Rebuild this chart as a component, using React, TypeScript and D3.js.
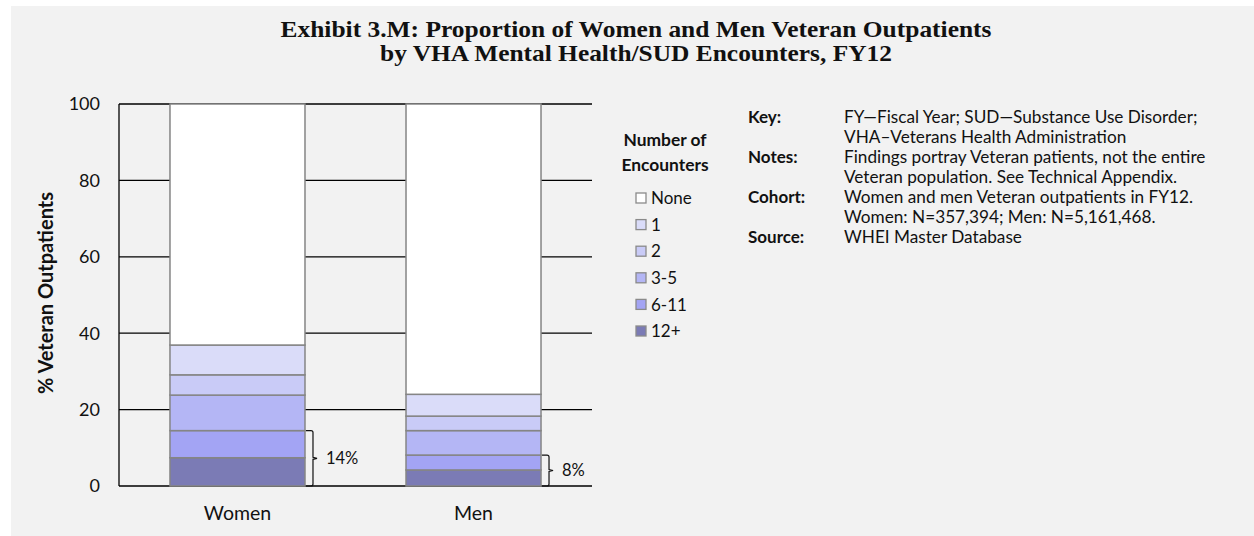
import React from "react";
import * as d3 from "d3";

const categories = ["Women", "Men"];
const encounterGroups = ["12+", "6-11", "3-5", "2", "1", "None"];
const womenValues = [7.4, 7.1, 9.3, 5.3, 7.8, 63.1];
const menValues = [4.2, 3.9, 6.4, 3.8, 5.7, 76.0];
const groupColors = ["#7b7bb5", "#a3a4f4", "#b4b6f5", "#c9cbf7", "#dadcf9", "#ffffff"];
const yTicks = [0, 20, 40, 60, 80, 100];
const bracketLabels = ["14%", "8%"];
const bracketGroups = 2; // 12+ and 6-11
const legendOrder = ["None", "1", "2", "3-5", "6-11", "12+"];

const titleLines = [
  "Exhibit 3.M: Proportion of Women and Men Veteran Outpatients",
  "by VHA Mental Health/SUD Encounters, FY12",
];
const titleWidths = [711, 512];
const notes = [
  { label: "Key:", lines: ["FY\u2014Fiscal Year; SUD\u2014Substance Use Disorder;", "VHA\u2013Veterans Health Administration"] },
  { label: "Notes:", lines: ["Findings portray Veteran patients, not the entire", "Veteran population. See Technical Appendix."] },
  { label: "Cohort:", lines: ["Women and men Veteran outpatients in FY12.", "Women: N=357,394; Men: N=5,161,468."] },
  { label: "Source:", lines: ["WHEI Master Database"] },
];

const W = 1254;
const H = 536;
const plot = { left: 119, right: 592, top: 104, bottom: 486 };
const SANS = "Lato, 'Open Sans', sans-serif";

export default function App() {
  const rows = categories.map((c, i) => {
    const vals = i === 0 ? womenValues : menValues;
    const r: any = { cat: c };
    encounterGroups.forEach((g, j) => (r[g] = vals[j]));
    return r;
  });
  const stack = d3.stack<any>().keys(encounterGroups)(rows);
  const x = d3
    .scaleBand<string>()
    .domain(categories)
    .range([plot.left, plot.right])
    .paddingInner(0.428)
    .paddingOuter(0.216);
  const y = d3.scaleLinear().domain([0, 100]).range([plot.bottom, plot.top]);
  const color = d3.scaleOrdinal<string, string>().domain(encounterGroups).range(groupColors);

  let noteLine = 0;
  const noteY0 = 117;
  const noteStep = 20;

  return (
    <svg width={W} height={H} style={{ position: "absolute", left: 0, top: 0 }} fontFamily={SANS}>
      <rect x={11} y={6} width={W - 11} height={H - 6} fill="#f2f2f2" />
      {titleLines.map((t, i) => (
        <text
          key={i}
          x={636}
          y={37 + i * 24}
          textAnchor="middle"
          fontFamily="'Liberation Serif', 'DejaVu Serif', serif"
          fontWeight="bold"
          fontSize={22.5}
          textLength={titleWidths[i]}
          lengthAdjust="spacingAndGlyphs"
          fill="#111"
        >
          {t}
        </text>
      ))}

      {/* gridlines */}
      {yTicks.map((t) => (
        <line key={t} x1={plot.left} x2={plot.right} y1={y(t)} y2={y(t)} stroke="#000" strokeWidth={1.3} />
      ))}
      <line x1={plot.left} x2={plot.left} y1={plot.top} y2={plot.bottom} stroke="#000" strokeWidth={1.3} />
      {yTicks.map((t) => (
        <text key={"l" + t} x={100} y={y(t)} dy="0.36em" textAnchor="end" fontSize={18} fill="#111">
          {t}
        </text>
      ))}
      <text
        transform={`translate(46,${(plot.top + plot.bottom) / 2 - 2}) rotate(-90)`}
        textAnchor="middle"
        dy="0.35em"
        fontSize={20}
        fontWeight="bold"
        fill="#111"
      >
        % Veteran Outpatients
      </text>

      {/* bars */}
      {stack.map((layer) => (
        <g key={layer.key}>
          {layer.map((d: any, i: number) => (
            <rect
              key={i}
              x={x(d.data.cat)}
              width={x.bandwidth()}
              y={y(d[1])}
              height={y(d[0]) - y(d[1])}
              fill={color(layer.key)}
              stroke="#858585"
              strokeWidth={1.5}
            />
          ))}
        </g>
      ))}

      {/* brackets */}
      {categories.map((c, i) => {
        const top = stack[bracketGroups - 1][i][1];
        const x0 = (x(c) as number) + x.bandwidth() + 1;
        const xb = x0 + 7;
        const y0 = y(top);
        const y1 = y(0);
        const ym = (y0 + y1) / 2;
        const path = `M${x0},${y0} H${xb - 2} Q${xb},${y0} ${xb},${y0 + 2} V${ym - 1} L${xb + 4},${ym} L${xb},${ym + 1} V${y1 - 2} Q${xb},${y1} ${xb - 2},${y1} H${x0}`;
        return (
          <g key={"b" + c}>
            <path d={path} fill="none" stroke="#111" strokeWidth={1.2} />
            <text x={xb + 13} y={ym} dy="0.36em" fontSize={16.5} fill="#111">
              {bracketLabels[i]}
            </text>
          </g>
        );
      })}

      {/* x labels */}
      {categories.map((c) => (
        <text key={"x" + c} x={(x(c) as number) + x.bandwidth() / 2} y={513} dy="0.36em" textAnchor="middle" fontSize={19.5} fill="#111">
          {c}
        </text>
      ))}

      {/* legend */}
      <text x={665} y={140} dy="0.36em" textAnchor="middle" fontSize={17.4} fontWeight="bold" fill="#111">
        Number of
      </text>
      <text x={665} y={165} dy="0.36em" textAnchor="middle" fontSize={17.4} fontWeight="bold" fill="#111">
        Encounters
      </text>
      {legendOrder.map((g, i) => {
        const cy = 198 + i * 26.6;
        return (
          <g key={"lg" + g}>
            <rect x={636} y={cy - 5} width={10} height={10} fill={color(g)} stroke="#8a8a8a" strokeWidth={1.3} />
            <text x={651} y={cy} dy="0.36em" fontSize={17} fill="#111">
              {g}
            </text>
          </g>
        );
      })}

      {/* notes */}
      {notes.map((n) => {
        const start = noteLine;
        noteLine += n.lines.length;
        return (
          <g key={n.label}>
            <text x={748} y={noteY0 + start * noteStep} dy="0.36em" fontSize={17} fontWeight="bold" fill="#111">
              {n.label}
            </text>
            {n.lines.map((l, k) => (
              <text key={k} x={844} y={noteY0 + (start + k) * noteStep} dy="0.36em" fontSize={17.2} fill="#111">
                {l}
              </text>
            ))}
          </g>
        );
      })}
    </svg>
  );
}
